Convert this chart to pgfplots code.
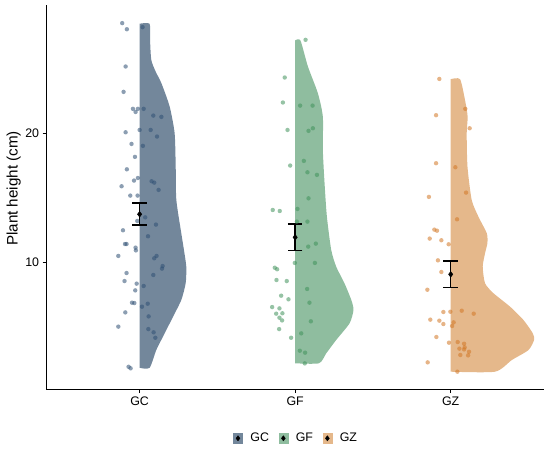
\documentclass[border=0pt]{standalone}
\usepackage{pgfplots}
\pgfplotsset{compat=1.18}
\usepackage{fontspec}
\setmainfont{Liberation Sans}
\definecolor{gcv}{RGB}{115,135,155}
\definecolor{gfv}{RGB}{143,189,159}
\definecolor{gzv}{RGB}{229,184,139}
\definecolor{gcp}{RGB}{46,79,115}
\definecolor{gfp}{RGB}{64,146,91}
\definecolor{gzp}{RGB}{210,119,37}
\begin{document}
\begin{tikzpicture}
\begin{axis}[name=ax, scale only axis, width=497.7bp, height=384.3bp,
 xmin=0.4, xmax=3.6, ymin=0.22, ymax=29.9,
 axis lines=left, axis line style={-, line width=1.1bp, black},
 xtick={1,2,3}, xticklabels={GC,GF,GZ}, ytick={10,20},
 tick align=outside, major tick length=3.7bp, tick style={line width=1.1bp, black},
 ticklabel style={font=\fontsize{12.4bp}{14bp}\selectfont, text=black},
 /pgf/number format/assume math mode=true,
 ylabel={Plant height (cm)},
 y label style={at={(axis description cs:0,0.5225)}, anchor=center, yshift=32.5bp, font=\fontsize{15.2bp}{18bp}\selectfont},
 legend style={at={(axis description cs:0.5,-0.1275)}, anchor=center, draw=none, fill=none,
   legend columns=3, font=\fontsize{12.4bp}{14bp}\selectfont, inner sep=0bp,
   nodes={inner sep=0bp},
   /tikz/every odd column/.append style={column sep=7.7bp},
   /tikz/every even column/.append style={column sep=9.7bp}},
 legend cell align=left,
]
% violins
\addplot[forget plot, fill=gcv, draw=none, smooth, tension=0.4] coordinates {
(1,1.88) (1.064,1.88) (1.107,3.25) (1.161,4.54) (1.215,5.83) (1.268,7.12) (1.296,8.41) (1.300,9.69) (1.285,10.98) (1.268,12.27) (1.236,14.85) (1.232,17.42) (1.225,20.00) (1.193,22.06) (1.140,23.86) (1.103,24.76) (1.075,25.66) (1.067,27.21) (1.064,28.45) (1,28.45)} -- cycle;
\addplot[forget plot, fill=gfv, draw=none, smooth, tension=0.4] coordinates {
(2,2.23) (2.153,2.23) (2.200,3.00) (2.264,4.03) (2.350,5.32) (2.375,6.35) (2.361,7.12) (2.317,8.41) (2.264,9.69) (2.232,10.98) (2.204,13.56) (2.189,16.14) (2.178,18.71) (2.178,21.28) (2.146,23.09) (2.082,25.15) (2.034,27.16) (2,27.16)} -- cycle;
\addplot[forget plot, fill=gzv, draw=none, smooth, tension=0.4] coordinates {
(3,1.58) (3.285,1.58) (3.393,2.48) (3.500,3.25) (3.536,4.03) (3.528,4.54) (3.468,5.57) (3.382,6.60) (3.275,7.64) (3.221,8.41) (3.206,9.69) (3.221,10.73) (3.236,11.50) (3.232,12.27) (3.178,13.56) (3.135,14.85) (3.108,17.42) (3.103,20.00) (3.109,21.28) (3.092,22.57) (3.060,24.17) (3,24.17)} -- cycle;
% points
\addplot[forget plot, only marks, mark=*, mark size=2.2bp, mark options={fill=gcp, draw=gcp, draw opacity=0, fill opacity=0.55}] coordinates {
(0.888,28.50) (0.918,28.03) (1.019,28.19) (0.910,25.15) (0.897,23.19) (0.957,21.88) (0.974,21.64) (0.989,21.88) (1.026,21.88) (1.088,21.36) (1.140,21.26) (0.910,20.07) (1.000,20.25) (1.071,20.25) (1.112,19.74) (0.948,19.17) (1.021,19.02) (0.970,18.17) (0.918,17.21) (0.989,16.54) (0.964,16.34) (1.077,16.29) (1.094,16.18) (1.122,15.62) (0.884,15.90) (0.940,15.18) (0.987,15.18) (1.036,13.50) (0.985,13.22) (1.105,12.94) (0.893,12.50) (1.054,12.04) (0.906,11.44) (0.916,11.44) (0.974,11.16) (0.976,10.95) (0.863,10.52) (1.094,10.34) (1.109,10.52) (1.148,9.74) (1.144,9.54) (1.088,9.05) (0.916,9.20) (0.903,8.58) (0.981,8.38) (1.026,8.20) (0.972,7.86) (0.951,6.91) (0.966,6.88) (1.015,6.60) (1.052,6.83) (1.058,5.85) (0.908,6.16) (0.863,5.06) (1.056,4.87) (1.090,4.62) (1.101,4.20) (0.929,1.96) (0.942,1.84)};
\addplot[forget plot, only marks, mark=*, mark size=2.2bp, mark options={fill=gfp, draw=gfp, draw opacity=0, fill opacity=0.55}] coordinates {
(2.067,27.21) (1.933,24.30) (1.921,22.37) (2.032,22.13) (2.112,22.13) (1.951,20.25) (2.086,20.18) (2.114,20.38) (1.968,17.50) (2.056,17.86) (2.079,16.98) (2.140,16.78) (2.086,14.97) (1.856,14.07) (1.901,13.99) (2.015,14.15) (2.011,13.17) (2.079,13.17) (2.084,11.24) (2.133,11.47) (1.998,9.98) (2.127,9.98) (1.869,9.61) (1.884,9.49) (1.880,8.66) (1.946,8.58) (2.077,7.97) (1.910,7.45) (1.957,7.17) (2.092,6.91) (1.852,6.57) (1.899,6.47) (1.878,6.06) (1.918,6.09) (1.899,5.75) (1.916,5.54) (2.101,5.47) (1.897,4.87) (2.039,4.54) (1.974,4.20) (2.030,3.20) (2.064,3.05) (2.062,2.22)};
\addplot[forget plot, only marks, mark=*, mark size=2.2bp, mark options={fill=gzp, draw=gzp, draw opacity=0, fill opacity=0.55}] coordinates {
(2.927,24.19) (3.094,21.88) (2.906,21.39) (3.122,20.38) (2.906,17.68) (3.030,17.37) (2.860,15.08) (3.099,15.41) (3.041,13.35) (2.895,12.55) (2.912,12.47) (2.865,11.86) (2.940,11.73) (2.987,11.42) (2.918,10.18) (2.940,9.28) (2.850,7.91) (3.071,6.29) (2.953,6.19) (2.998,6.21) (3.148,6.06) (2.869,5.60) (2.927,5.52) (3.019,5.39) (2.953,5.26) (3.009,5.11) (2.908,4.26) (2.989,3.82) (3.045,3.87) (3.086,3.74) (3.090,3.46) (3.056,3.36) (3.118,3.12) (3.086,3.30) (3.062,2.87) (3.112,2.84) (2.852,2.30) (3.043,1.58)};
% means with error bars
\addplot[forget plot, only marks, mark=diamond*, mark size=2.9bp, black,
  error bars/.cd, y dir=both, y explicit,
  error bar style={line width=1.5bp, black},
  error mark options={rotate=90, black, mark size=7.3bp, line width=1.5bp}] coordinates {
(1,13.74) +- (0,0.85)
(2,11.96) +- (0,1.03)
(3,9.10) +- (0,1.02)};
% legend
\addlegendimage{legend image code/.code={\fill[gcv] (0bp,-5bp) rectangle (9bp,5bp); \fill[black] (4.5bp,2.6bp) -- (6.45bp,0bp) -- (4.5bp,-2.6bp) -- (2.55bp,0bp) -- cycle;}}
\addlegendentry{GC}
\addlegendimage{legend image code/.code={\fill[gfv] (0bp,-5bp) rectangle (9bp,5bp); \fill[black] (4.5bp,2.6bp) -- (6.45bp,0bp) -- (4.5bp,-2.6bp) -- (2.55bp,0bp) -- cycle;}}
\addlegendentry{GF}
\addlegendimage{legend image code/.code={\fill[gzv] (0bp,-5bp) rectangle (9bp,5bp); \fill[black] (4.5bp,2.6bp) -- (6.45bp,0bp) -- (4.5bp,-2.6bp) -- (2.55bp,0bp) -- cycle;}}
\addlegendentry{GZ}
\end{axis}
\pgfresetboundingbox
\path[use as bounding box] (ax.south west) ++(-46.3bp,-59.7bp) rectangle ++(550bp,449bp);
\end{tikzpicture}
\end{document}
